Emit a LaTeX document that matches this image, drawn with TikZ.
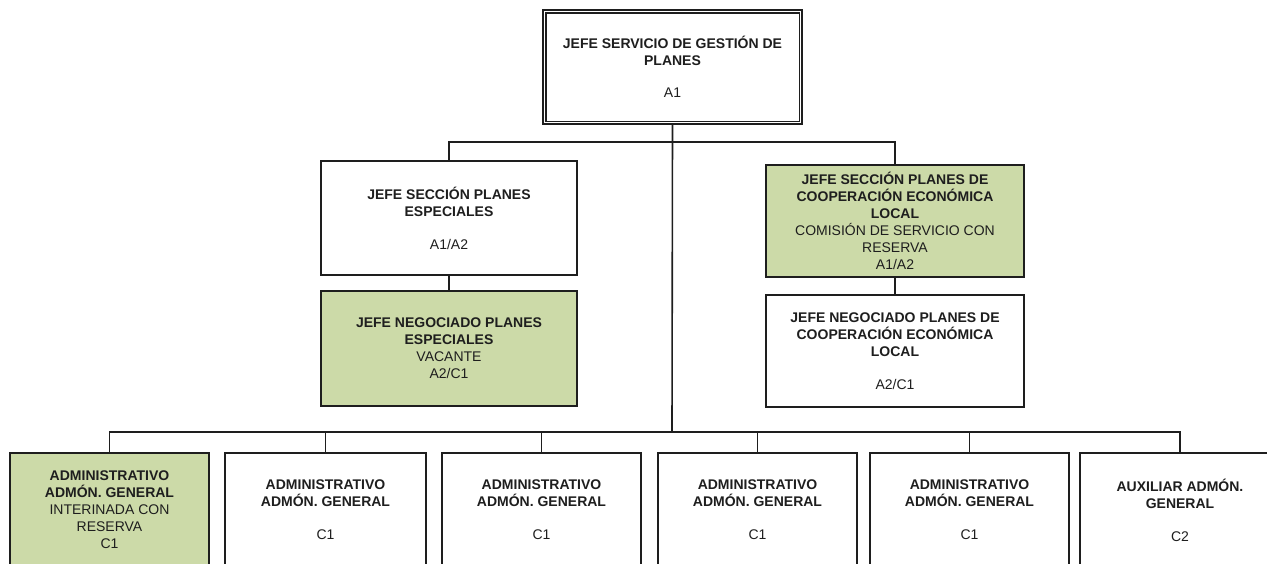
\documentclass[tikz,border=0pt]{standalone}
\usepackage{fontspec}
\setmainfont{Liberation Sans}
\definecolor{boxgreen}{HTML}{CCDAA8}
\definecolor{ink}{HTML}{1E1E1E}
\tikzset{
  orgbox/.style={draw=ink, line width=1.6pt, fill=white, align=center, inner sep=0pt,
    text=ink, font=\fontsize{14}{17}\selectfont},
  greenbox/.style={orgbox, fill=boxgreen},
  link/.style={draw=ink, line width=1.6pt}
}
\begin{document}
\begin{tikzpicture}[x=1pt,y=-1pt]
\useasboundingbox (0,0) rectangle (1267,563);
\clip (0,0) rectangle (1267,563);
% top
\node[orgbox, minimum width=259pt, minimum height=114pt, line width=1.3pt] (top) at (672.5,67)
  {\textbf{JEFE SERVICIO DE GESTIÓN DE}\\\textbf{PLANES}\\[15pt]A1};
\draw[ink, line width=1.3pt] ([shift={(3.5,3.5)}]top.north west) rectangle ([shift={(-3.5,-3.5)}]top.south east);
% second level
\node[orgbox, minimum width=256pt, minimum height=114pt] (ls1) at (449,218)
  {\textbf{JEFE SECCIÓN PLANES}\\\textbf{ESPECIALES}\\[16pt]A1/A2};
\node[greenbox, minimum width=256pt, minimum height=115pt] (ls2) at (449,348.5)
  {\textbf{JEFE NEGOCIADO PLANES}\\\textbf{ESPECIALES}\\VACANTE\\A2/C1};
\node[greenbox, minimum width=258pt, minimum height=112pt] (rs1) at (895,221)
  {\textbf{JEFE SECCIÓN PLANES DE}\\\textbf{COOPERACIÓN ECONÓMICA}\\\textbf{LOCAL}\\COMISIÓN DE SERVICIO CON\\RESERVA\\A1/A2};
\node[orgbox, minimum width=258pt, minimum height=112pt] (rs2) at (895,351)
  {\textbf{JEFE NEGOCIADO PLANES DE}\\\textbf{COOPERACIÓN ECONÓMICA}\\\textbf{LOCAL}\\[16pt]A2/C1};
% bottom row
\node[greenbox, minimum width=199pt, minimum height=114pt] (b1) at (109.5,510)
  {\textbf{ADMINISTRATIVO}\\\textbf{ADMÓN. GENERAL}\\INTERINADA CON\\RESERVA\\C1};
\node[orgbox, minimum width=201pt, minimum height=114pt] (b2) at (325.5,510)
  {\textbf{ADMINISTRATIVO}\\\textbf{ADMÓN. GENERAL}\\[16pt]C1};
\node[orgbox, minimum width=199pt, minimum height=114pt] (b3) at (541.5,510)
  {\textbf{ADMINISTRATIVO}\\\textbf{ADMÓN. GENERAL}\\[16pt]C1};
\node[orgbox, minimum width=199pt, minimum height=114pt] (b4) at (757.5,510)
  {\textbf{ADMINISTRATIVO}\\\textbf{ADMÓN. GENERAL}\\[16pt]C1};
\node[orgbox, minimum width=199pt, minimum height=114pt] (b5) at (969.5,510)
  {\textbf{ADMINISTRATIVO}\\\textbf{ADMÓN. GENERAL}\\[16pt]C1};
\node[orgbox, minimum width=200pt, minimum height=114pt] (b6) at (1180,510)
  {\textbf{AUXILIAR ADMÓN.}\\\textbf{GENERAL}\\[16pt]C2};
% connectors
\coordinate (branch) at (672,142);
\coordinate (bus) at (672,432);
\draw[link] (top.south) -- (bus);
\draw[link] (ls1.north) -- (ls1.north |- branch) -- (rs1.north |- branch) -- (rs1.north);
\draw[link] (ls1.south) -- (ls2.north);
\draw[link] (rs1.south) -- (rs2.north);
\draw[link] (b1.north) -- (b1.north |- bus) -- (b6.north |- bus) -- (b6.north);
\foreach \b in {b2,b3,b4,b5} \draw[link] (\b.north) -- (\b.north |- bus);
\end{tikzpicture}
\end{document}
